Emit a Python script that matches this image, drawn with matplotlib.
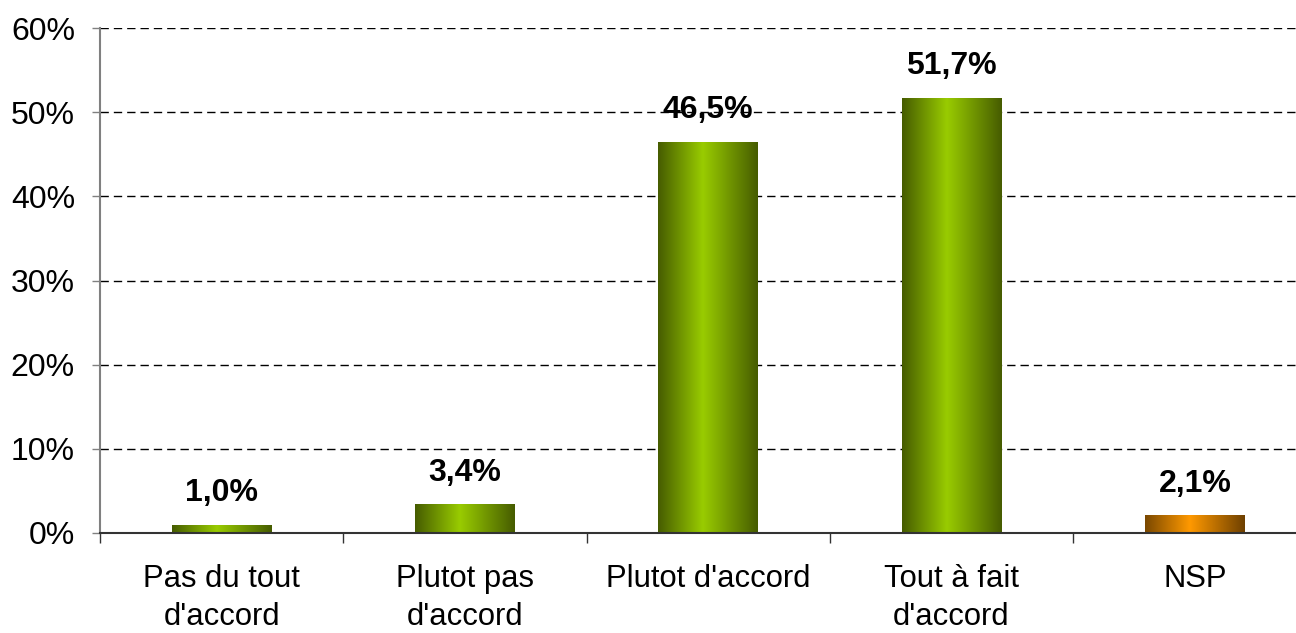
import numpy as np
import matplotlib
matplotlib.use('Agg')
import matplotlib.pyplot as plt
from matplotlib.colors import LinearSegmentedColormap

categories = ["Pas du tout\nd'accord", "Plutot pas\nd'accord", "Plutot d'accord",
              "Tout à fait\nd'accord", "NSP"]
values = [1.0, 3.4, 46.5, 51.7, 2.1]
value_labels = ["1,0%", "3,4%", "46,5%", "51,7%", "2,1%"]
bar_kinds = ['green', 'green', 'green', 'green', 'orange']

plt.rcParams['font.family'] = ['Liberation Sans', 'DejaVu Sans']

green_cmap = LinearSegmentedColormap.from_list(
    'greenbar', [(0, '#465c00'), (0.45, '#99cc00'), (1, '#465c00')])
orange_cmap = LinearSegmentedColormap.from_list(
    'orangebar', [(0, '#7a4800'), (0.45, '#ff9900'), (1, '#6e4000')])
cmaps = {'green': green_cmap, 'orange': orange_cmap}

W, H = 1296, 633
fig = plt.figure(figsize=(W / 100, H / 100), dpi=100)
ax = fig.add_axes([100 / W, 100 / H, 1216.5 / W, 505 / H])

x = np.arange(len(categories))
width = 0.41
bars = ax.bar(x, values, width=width, color='none', edgecolor='none', zorder=3)

gradient = np.linspace(0, 1, 256).reshape(1, -1)
for rect, kind in zip(bars, bar_kinds):
    x0 = rect.get_x()
    im = ax.imshow(gradient, cmap=cmaps[kind], aspect='auto',
                   extent=[x0, x0 + rect.get_width(), 0, rect.get_height()],
                   zorder=3, interpolation='bilinear')
    im.set_clip_path(rect)

for xi, v, lab in zip(x, values, value_labels):
    ax.annotate(lab, (xi, v), xytext=(0, 12), textcoords='offset points',
                ha='center', va='bottom', fontsize=23, fontweight='bold')

ax.set_xlim(-0.5, 4.5)
ax.set_ylim(0, 60)
ax.set_yticks(np.arange(0, 61, 10))
ax.set_yticklabels([f"{t}%" for t in range(0, 61, 10)], fontsize=23)
ax.yaxis.grid(True, color='black', linewidth=1, linestyle=(0, (6, 3.6)), zorder=1)
ax.set_axisbelow(True)

ax.set_xticks(x)
ax.set_xticklabels(categories, fontsize=22.3, linespacing=1.38)
ax.set_xticks(np.arange(-0.5, 5, 1), minor=True)
ax.tick_params(axis='x', which='major', length=0, pad=22)
ax.tick_params(axis='x', which='minor', length=7, width=1, color='#333333')
ax.tick_params(axis='y', length=6, width=1, color='#808080', pad=12)

for side in ['top', 'right']:
    ax.spines[side].set_visible(False)
ax.spines['left'].set_color('#808080')
ax.spines['left'].set_linewidth(1.5)
ax.spines['bottom'].set_color('#333333')
ax.spines['bottom'].set_linewidth(1.5)
ax.spines['bottom'].set_zorder(4)

fig.savefig('out.png', dpi=100)
